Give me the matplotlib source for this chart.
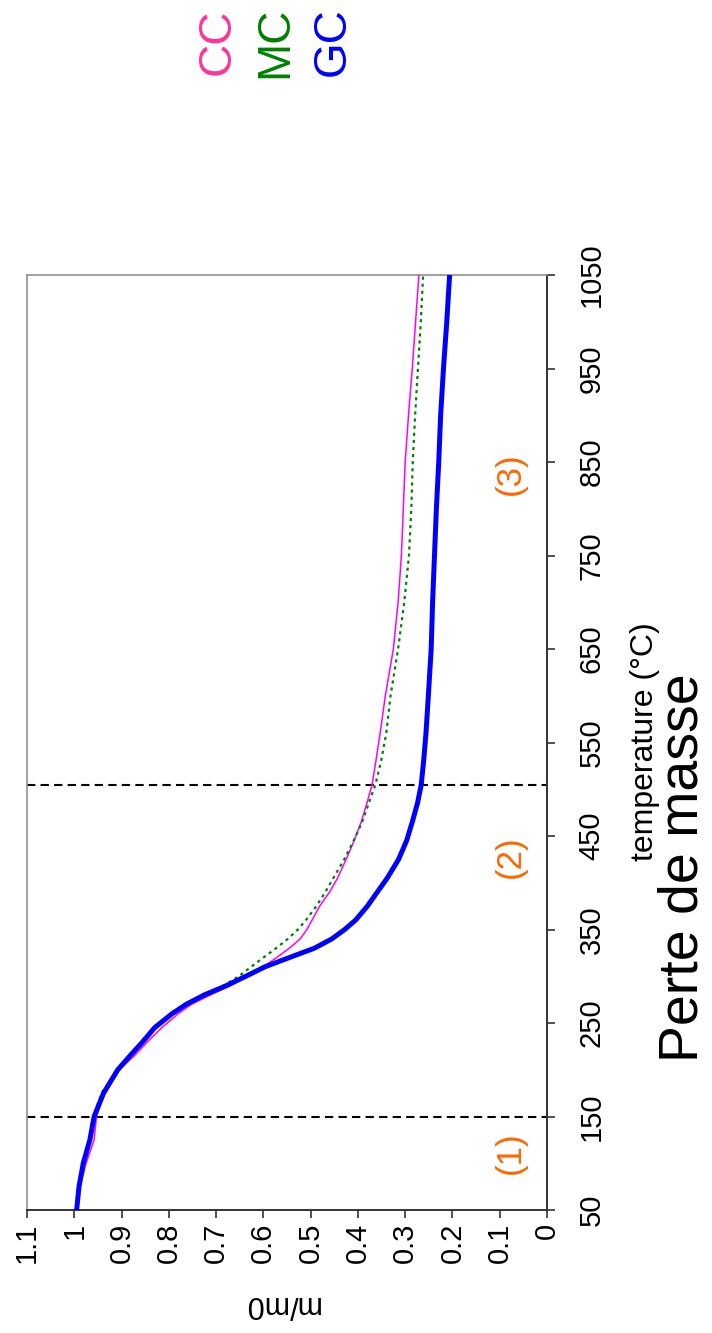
import matplotlib
matplotlib.use("Agg")
import matplotlib.pyplot as plt

plt.rcParams['font.family'] = ['Liberation Sans', 'DejaVu Sans']

# Temperature nodes (°C) and normalised mass m/m0 for the three samples
temperature = [50, 75, 100, 125, 150, 175, 200, 215, 230, 245, 260, 270, 280,
               290, 300, 310, 320, 330, 340, 350, 360, 375, 390, 405, 425,
               445, 465, 485, 505, 530, 560, 600, 650, 700, 750, 800, 850,
               900, 950, 1000, 1050]

mass_cc = [0.995, 0.988, 0.975, 0.958, 0.953, 0.937, 0.905, 0.873, 0.845,
           0.815, 0.780, 0.752, 0.712, 0.670, 0.634, 0.600, 0.572, 0.545,
           0.522, 0.508, 0.497, 0.481, 0.460, 0.443, 0.425, 0.408, 0.393,
           0.381, 0.370, 0.362, 0.353, 0.342, 0.325, 0.315, 0.308, 0.304,
           0.300, 0.293, 0.285, 0.278, 0.271]

mass_mc = [0.996, 0.990, 0.982, 0.968, 0.960, 0.942, 0.910, 0.884, 0.857,
           0.830, 0.795, 0.768, 0.728, 0.684, 0.652, 0.626, 0.600, 0.573,
           0.548, 0.527, 0.510, 0.488, 0.469, 0.452, 0.429, 0.409, 0.391,
           0.377, 0.363, 0.351, 0.340, 0.331, 0.315, 0.302, 0.292, 0.287,
           0.284, 0.279, 0.273, 0.267, 0.262]

mass_gc = [0.995, 0.990, 0.981, 0.967, 0.958, 0.938, 0.908, 0.882, 0.855,
           0.830, 0.793, 0.763, 0.725, 0.678, 0.637, 0.597, 0.545, 0.492,
           0.455, 0.428, 0.405, 0.380, 0.359, 0.338, 0.314, 0.297, 0.285,
           0.274, 0.266, 0.261, 0.256, 0.251, 0.245, 0.242, 0.238, 0.234,
           0.229, 0.225, 0.219, 0.212, 0.206]

series_names = ["CC", "MC", "GC"]
legend_colors = ["#FF3399", "#008000", "#0000FF"]

temp_ticks = [50, 150, 250, 350, 450, 550, 650, 750, 850, 950, 1050]
mass_ticks = [1.1, 1.0, 0.9, 0.8, 0.7, 0.6, 0.5, 0.4, 0.3, 0.2, 0.1, 0.0]
mass_tick_labels = ["1.1", "1", "0.9", "0.8", "0.7", "0.6", "0.5", "0.4",
                    "0.3", "0.2", "0.1", "0"]

stage_limits = [150, 505]
stage_labels = ["(1)", "(2)", "(3)"]
stage_temps = [111, 428, 838]

W, H = 712, 1333
fig = plt.figure(figsize=(W / 100, H / 100), dpi=100)
ax = fig.add_axes([27 / W, (H - 1210) / H, (547 - 27) / W, (1210 - 275) / H])

# Drawn in a quarter-turned layout: mass runs right-to-left, temperature upward
ax.plot(mass_cc, temperature, color="#FF00FF", lw=1.1, zorder=3)
ax.plot(mass_mc, temperature, color="#008000", lw=1.6,
        linestyle=(0, (1.4, 1.8)), zorder=3)
ax.plot(mass_gc, temperature, color="#0000FF", lw=3.6, zorder=4,
        solid_joinstyle="round")

for t in stage_limits:
    ax.axhline(t, color="black", lw=1.5, linestyle=(0, (4, 2.5)), zorder=2)

for lab, t in zip(stage_labels, stage_temps):
    ax.text(0.078, t, lab, color="#FF6600", fontsize=25, rotation=90,
            ha="center", va="center")

ax.set_xlim(1.1, 0.0)
ax.set_ylim(50, 1050)

ax.set_xticks(mass_ticks)
ax.set_xticklabels(mass_tick_labels, rotation=90, fontsize=21)
ax.yaxis.tick_right()
ax.set_yticks(temp_ticks)
ax.set_yticklabels([str(t) for t in temp_ticks], rotation=90, fontsize=21,
                   va="center")

ax.tick_params(axis="x", direction="out", length=6, width=1.2,
               color="#333333", pad=3)
ax.tick_params(axis="y", direction="out", length=6, width=1.2,
               color="#333333", pad=16)

for side in ("left", "top"):
    ax.spines[side].set_color("#909090")
    ax.spines[side].set_linewidth(1.2)
for side in ("right", "bottom"):
    ax.spines[side].set_color("#333333")
    ax.spines[side].set_linewidth(1.4)

fig.text(281 / W, 1 - 1304 / H, "m/m0", rotation=180, fontsize=22,
         ha="center", va="center")
fig.text(645 / W, 1 - 742 / H, "temperature (°C)", rotation=90, fontsize=23,
         ha="center", va="center")
fig.text(683 / W, 1 - 868 / H, "Perte de masse", rotation=90, fontsize=40,
         ha="center", va="center")

for name, col, x in zip(series_names, legend_colors, [218, 275, 333]):
    fig.text(x / W, 1 - 42 / H, name, rotation=90, fontsize=33, color=col,
             ha="center", va="center")

fig.savefig("out.png", dpi=100, facecolor="white")
